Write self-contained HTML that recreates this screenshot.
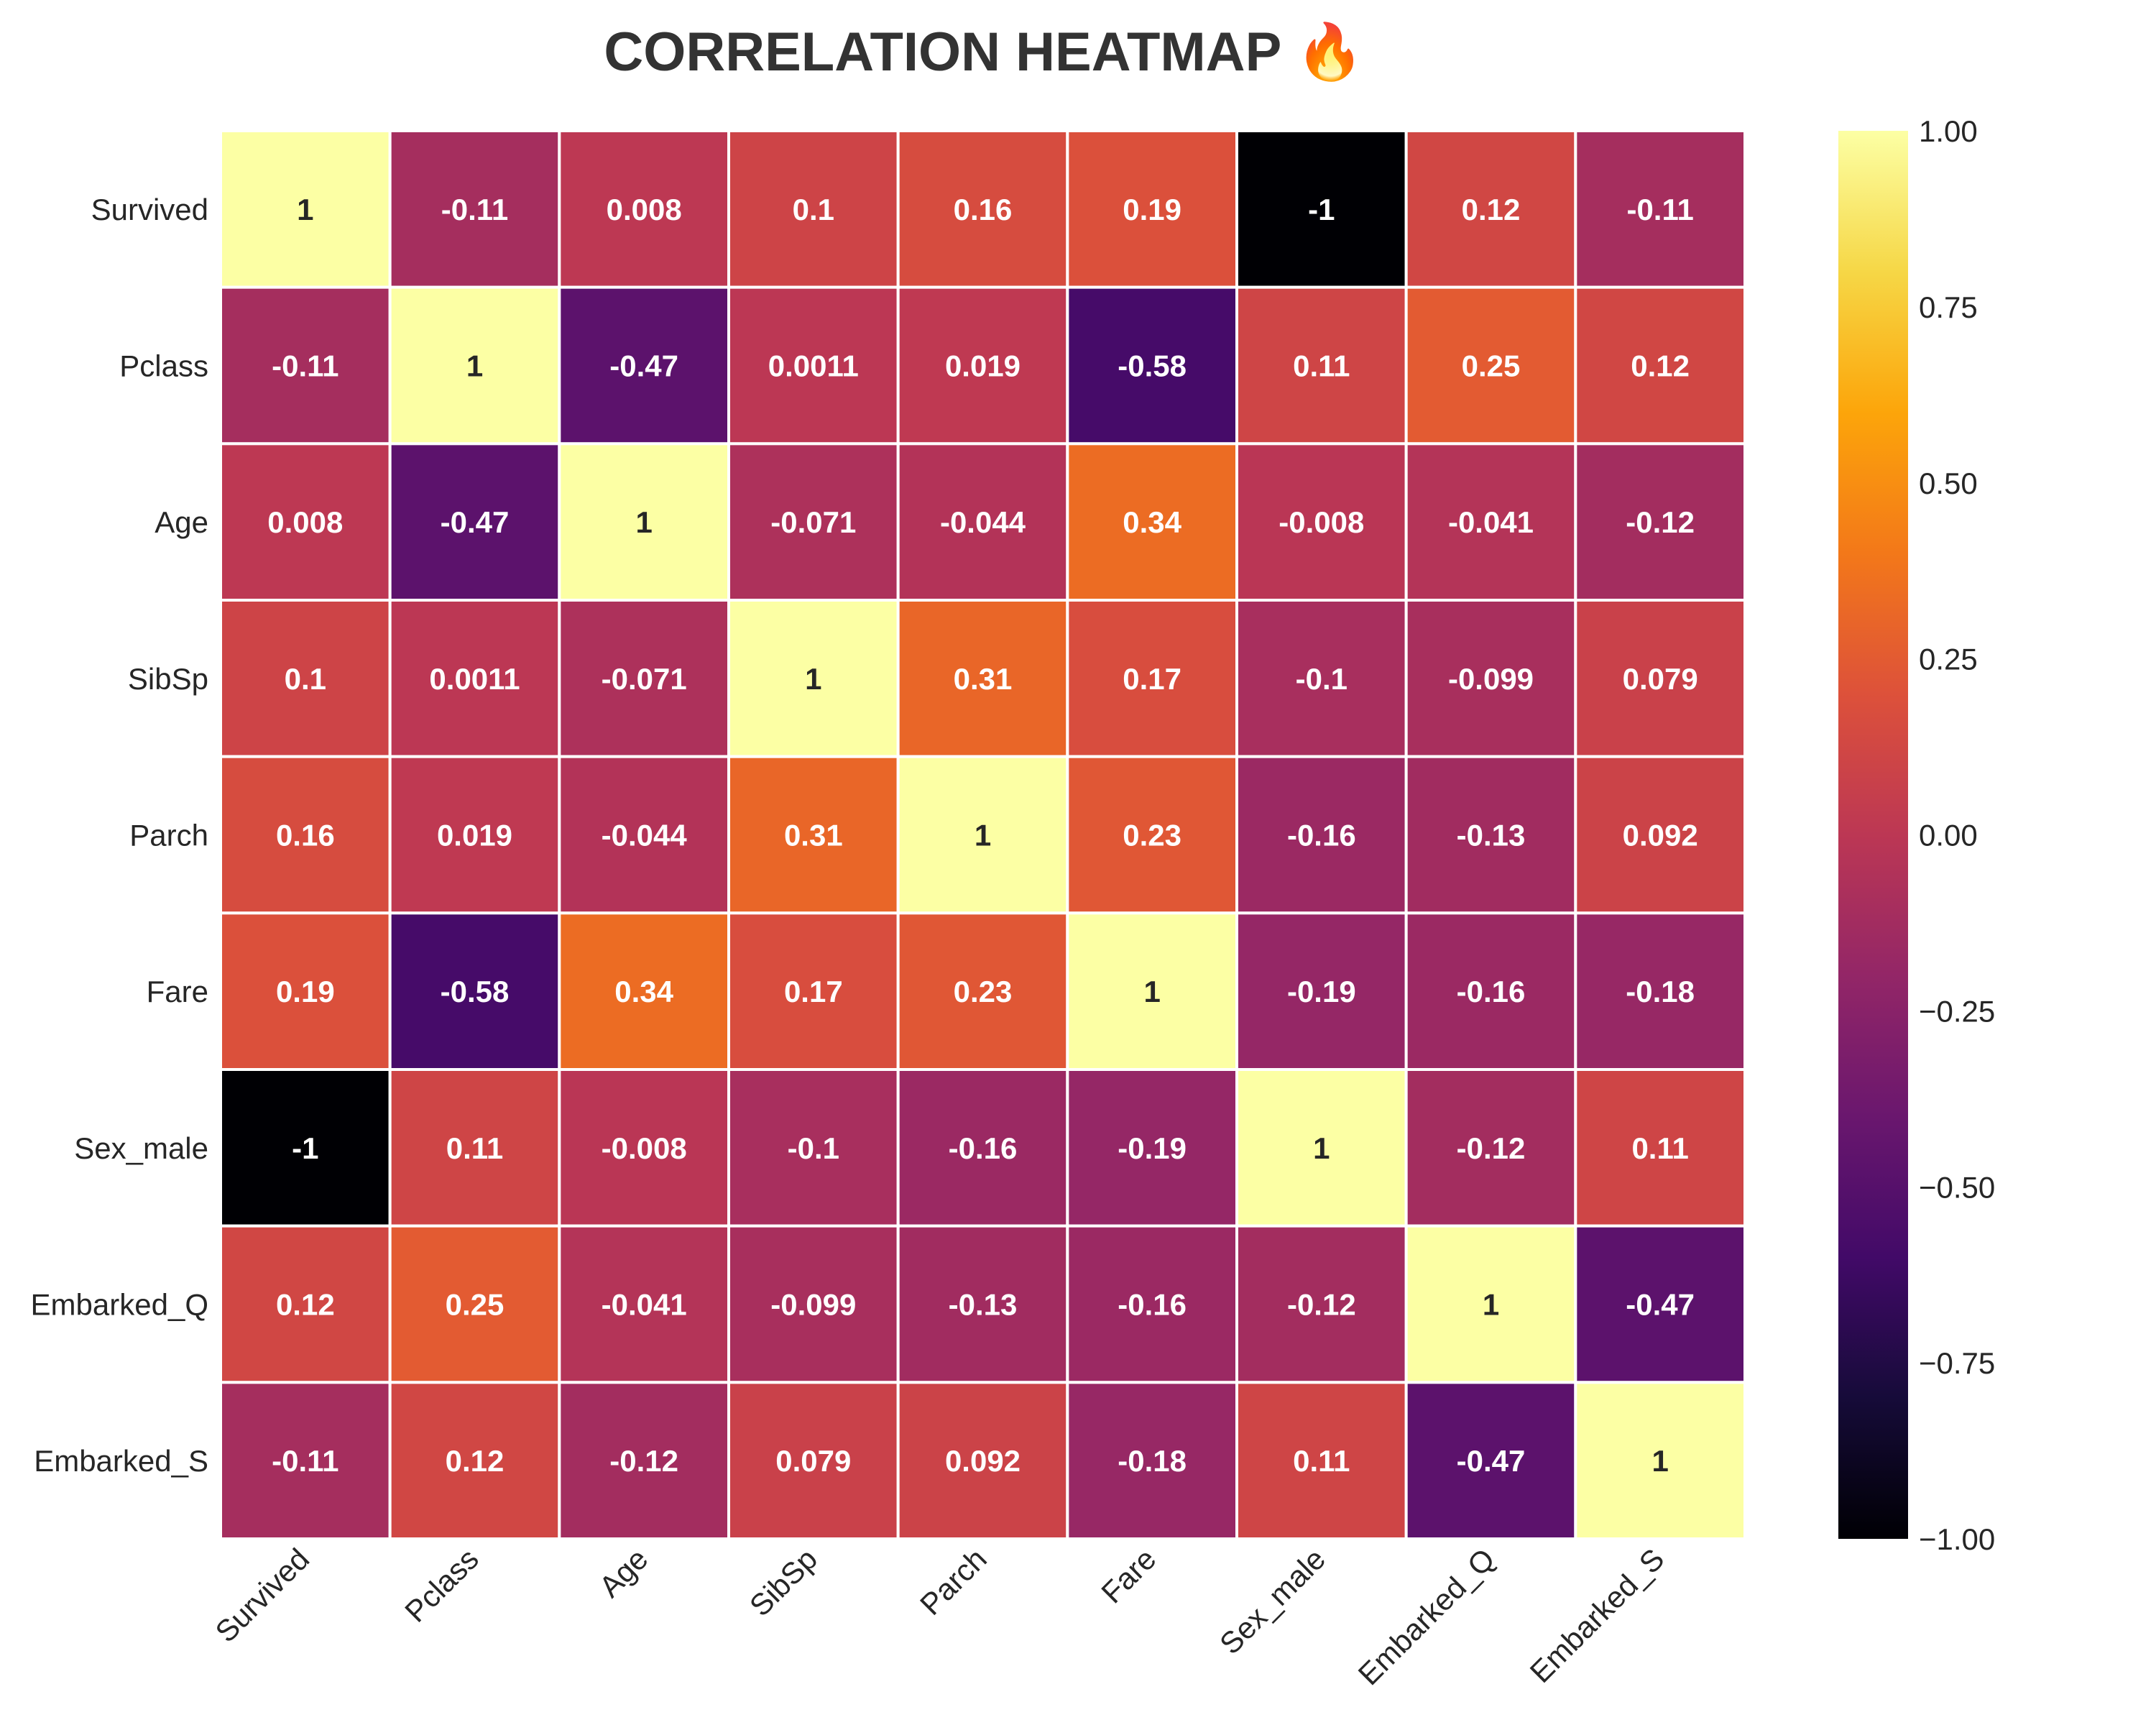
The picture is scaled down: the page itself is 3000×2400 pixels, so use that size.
<!DOCTYPE html>
<html><head><meta charset="utf-8"><style>
html,body{margin:0;padding:0;background:#fff;}
svg{display:block;font-family:"Liberation Sans",Arial,sans-serif;}
</style></head><body>
<svg id="chart" width="3000" height="2400" viewBox="0 0 3000 2400">
<defs><linearGradient id="cbgrad" x1="0" y1="1" x2="0" y2="0">
<stop offset="0" stop-color="#000004"/><stop offset="0.1" stop-color="#160b39"/><stop offset="0.2" stop-color="#420a68"/><stop offset="0.3" stop-color="#6a176e"/><stop offset="0.4" stop-color="#932667"/><stop offset="0.5" stop-color="#bc3754"/><stop offset="0.6" stop-color="#dd513a"/><stop offset="0.7" stop-color="#f37819"/><stop offset="0.8" stop-color="#fca50a"/><stop offset="0.9" stop-color="#f6d746"/><stop offset="1" stop-color="#fcffa4"/>
</linearGradient></defs>
<text x="1369" y="98" text-anchor="middle" font-size="76" font-weight="bold" fill="#333">CORRELATION HEATMAP 🔥</text>
<g id="cells"></g>
<g id="ylabels"></g>
<g id="xlabels"></g>
<rect x="2558" y="182" width="97" height="1959" fill="url(#cbgrad)"/>
<g id="cbticks"></g>
</svg>
<script>
const categories = ["Survived","Pclass","Age","SibSp","Parch","Fare","Sex_male","Embarked_Q","Embarked_S"];
const row0 = [1,-0.11,0.008,0.1,0.16,0.19,-1,0.12,-0.11];
const row1 = [-0.11,1,-0.47,0.0011,0.019,-0.58,0.11,0.25,0.12];
const row2 = [0.008,-0.47,1,-0.071,-0.044,0.34,-0.008,-0.041,-0.12];
const row3 = [0.1,0.0011,-0.071,1,0.31,0.17,-0.1,-0.099,0.079];
const row4 = [0.16,0.019,-0.044,0.31,1,0.23,-0.16,-0.13,0.092];
const row5 = [0.19,-0.58,0.34,0.17,0.23,1,-0.19,-0.16,-0.18];
const row6 = [-1,0.11,-0.008,-0.1,-0.16,-0.19,1,-0.12,0.11];
const row7 = [0.12,0.25,-0.041,-0.099,-0.13,-0.16,-0.12,1,-0.47];
const row8 = [-0.11,0.12,-0.12,0.079,0.092,-0.18,0.11,-0.47,1];
const matrix = [row0,row1,row2,row3,row4,row5,row6,row7,row8];
const cbTicks = [1,0.75,0.5,0.25,0,-0.25,-0.5,-0.75,-1];
const cbTickLabels = ["1.00","0.75","0.50","0.25","0.00","\u22120.25","\u22120.50","\u22120.75","\u22121.00"];

const NS = "http://www.w3.org/2000/svg";
const L = 307, R = 2428, T = 182, B = 2141;
const cw = (R - L) / categories.length, ch = (B - T) / categories.length;
const xPos = i => L + i * cw;
const yPos = i => T + i * ch;
const cbY = v => 2141 - (v + 1) / 2 * (2141 - 182);
const stops = ["#000004","#160b39","#420a68","#6a176e","#932667","#bc3754","#dd513a","#f37819","#fca50a","#f6d746","#fcffa4"];
function hex(h){return [1,3,5].map(k=>parseInt(h.substr(k,2),16));}
function color(v){
  let t = Math.max(0, Math.min(1, (v + 1) / 2)) * 10;
  let i = Math.min(9, Math.floor(t)), f = t - i;
  const a = hex(stops[i]), b = hex(stops[i+1]);
  return "rgb(" + a.map((c,k)=>Math.round(c + (b[k]-c)*f)).join(",") + ")";
}
function mk(tag, attrs){const e = document.createElementNS(NS, tag); for (const k in attrs) e.setAttribute(k, attrs[k]); return e;}
const cells = document.getElementById("cells");
matrix.forEach((row, r) => {
  row.forEach((v, c) => {
    const rect = mk("rect", {x: xPos(c), y: yPos(r), width: cw, height: ch, fill: color(v), stroke: "#fff", "stroke-width": 4});
    
    
    cells.appendChild(rect);
    const t = mk("text", {x: xPos(c) + cw/2, y: yPos(r) + ch/2 + 15, "text-anchor": "middle", "font-size": 42, "font-weight": "bold", fill: (v > 0.8 ? "#262626" : "#fff")});
    t.textContent = String(v);
    
    
    cells.appendChild(t);
  });
});
const yl = document.getElementById("ylabels");
const xl = document.getElementById("xlabels");
categories.forEach((name, i) => {
  const t = mk("text", {x: 290, y: yPos(i) + ch/2 + 15, "text-anchor": "end", "font-size": 42, fill: "#262626"});
  t.textContent = name;
  
  
  yl.appendChild(t);
  const cx = xPos(i) + cw/2 + 8, cy = 2172;
  const u = mk("text", {x: cx, y: cy, "text-anchor": "end", "font-size": 42, fill: "#262626", transform: "rotate(-45 " + cx + " " + cy + ")"});
  u.textContent = name;
  
  
  xl.appendChild(u);
});
const cb = document.getElementById("cbticks");
cbTicks.forEach((v, i) => {
  const t = mk("text", {x: 2670, y: cbY(v) + 15, "font-size": 42, fill: "#262626"});
  t.textContent = cbTickLabels[i];
  
  
  cb.appendChild(t);
});
</script>
</body></html>
